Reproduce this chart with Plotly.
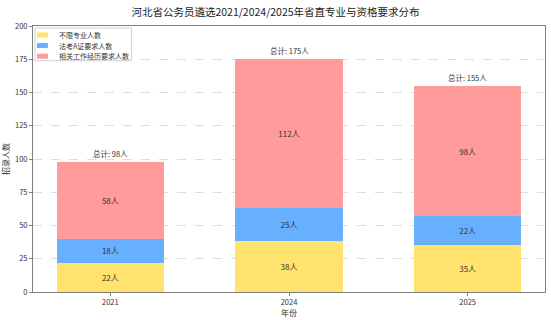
import plotly.graph_objects as go

years = ["2021", "2024", "2025"]
unlimited = [22, 38, 35]
law_a = [18, 25, 22]
experience = [58, 112, 98]
series_names = ["不限专业人数", "法考A证要求人数", "相关工作经历要求人数"]
colors = ["#FFE36E", "#66B0FF", "#FF9B9B"]

totals = [a + b + c for a, b, c in zip(unlimited, law_a, experience)]
x = list(range(len(years)))

W, H = 551, 320
ML, MR, MT, MB = 31, 5, 26, 26
PW, PH = W - ML - MR, H - MT - MB


def px_x(p):
    return (p - ML) / PW


def px_y(p):
    return 1 - (p - MT) / PH


font = "Noto Sans CJK SC, sans-serif"
fig = go.Figure()
for name, vals, col in zip(series_names, [unlimited, law_a, experience], colors):
    fig.add_trace(go.Bar(
        x=x, y=vals, name=name, marker=dict(color=col, line=dict(width=0)),
        width=0.6, text=[f"{v}人" for v in vals], textposition="inside",
        insidetextanchor="middle", textangle=0, showlegend=False,
        textfont=dict(size=8, color="#333333", family=font),
    ))

for xi, t in zip(x, totals):
    fig.add_annotation(x=xi, y=t, text=f"总计: {t}人", showarrow=False,
                       yanchor="bottom", yshift=1,
                       font=dict(size=7.5, color="#333333", family=font))

# custom compact legend
shapes = [dict(type="rect", xref="paper", yref="paper",
               x0=px_x(33), x1=px_x(130), y0=px_y(61), y1=px_y(28),
               line=dict(color="#d0d0d0", width=1), fillcolor="rgba(255,255,255,0.85)",
               layer="above")]
for i, (name, col) in enumerate(zip(series_names, colors)):
    cy = 35 + i * 10.7
    shapes.append(dict(type="rect", xref="paper", yref="paper",
                       x0=px_x(35), x1=px_x(46), y0=px_y(cy + 2.5), y1=px_y(cy - 2.5),
                       line=dict(width=0), fillcolor=col, layer="above"))
    fig.add_annotation(xref="paper", yref="paper", x=px_x(55), y=px_y(cy),
                       text=name, showarrow=False, xanchor="left", yanchor="middle",
                       font=dict(size=7, color="#333333", family=font))

fig.update_layout(
    width=W, height=H, barmode="stack",
    margin=dict(l=ML, r=MR, t=MT, b=MB),
    paper_bgcolor="white", plot_bgcolor="white",
    font=dict(family=font, size=8, color="#333333"),
    title=dict(text="河北省公务员遴选2021/2024/2025年省直专业与资格要求分布",
               x=0.5, xanchor="center", y=0.962, yanchor="middle",
               font=dict(size=10.5, color="#222222", family=font)),
    shapes=shapes,
    bargap=0.4,
)
fig.update_xaxes(range=[-0.433, 2.433], tickvals=x, ticktext=years,
                 showline=True, linecolor="#808080", linewidth=1, mirror=True,
                 ticks="outside", ticklen=3, tickcolor="#808080",
                 tickfont=dict(size=7.5), showgrid=False,
                 title=dict(text="年份", font=dict(size=8), standoff=2))
fig.update_yaxes(range=[0, 200], dtick=25,
                 showline=True, linecolor="#808080", linewidth=1, mirror=True,
                 ticks="outside", ticklen=3, tickcolor="#808080",
                 tickfont=dict(size=7.5), showgrid=True, gridcolor="#dddddd",
                 griddash="dash", gridwidth=0.7, zeroline=False,
                 title=dict(text="招录人数", font=dict(size=8), standoff=4))

fig.write_html("out.html")
